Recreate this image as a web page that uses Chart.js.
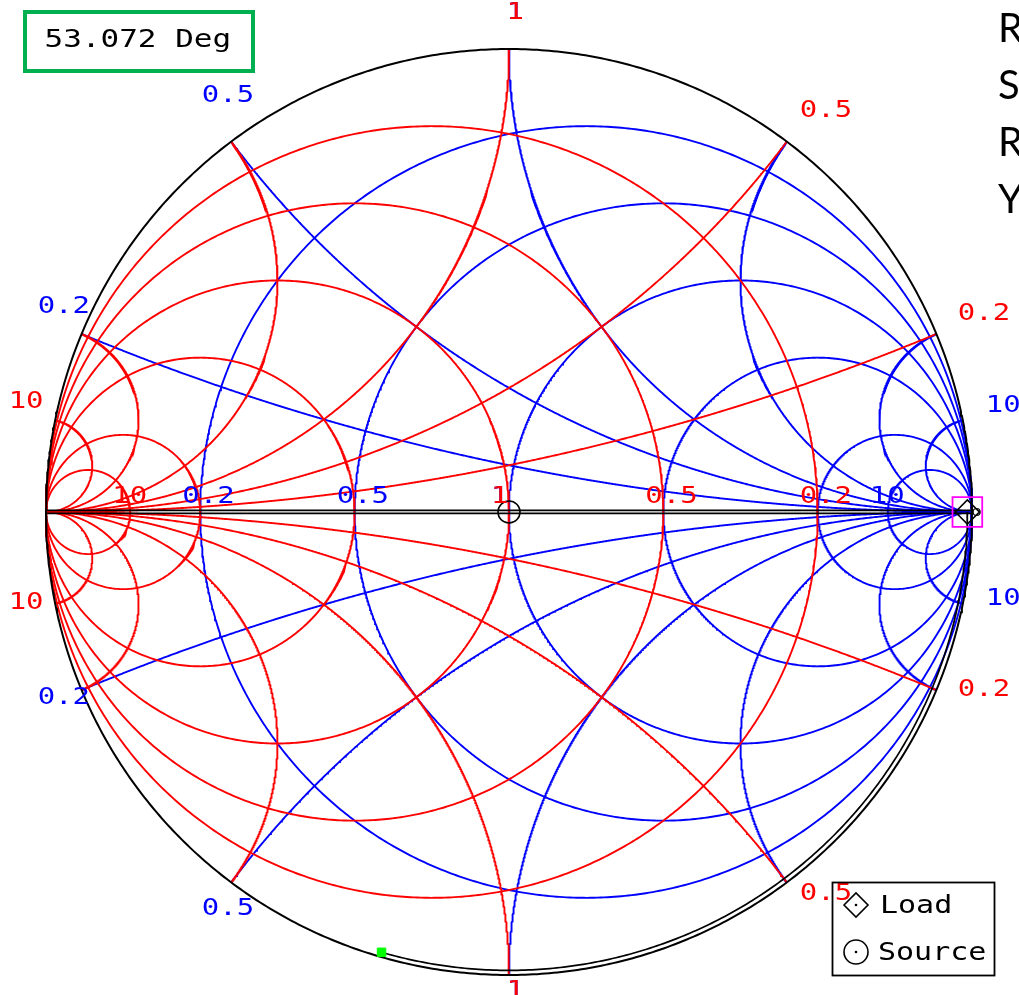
<!DOCTYPE html>
<html>
<head>
<meta charset="utf-8">
<script src="https://cdn.jsdelivr.net/npm/chart.js@4.4.1/dist/chart.umd.min.js"></script>
<style>
  html, body { margin: 0; padding: 0; background: #ffffff; overflow: hidden; }
  canvas { display: block; }
</style>
</head>
<body>
<canvas id="smith" width="1019" height="995"></canvas>
<script>
// Grid values of the impedance (Z, blue) and admittance (Y, red) charts
const resistanceValues  = [0.2, 0.5, 1, 2, 5, 10];
const reactanceValues   = [0.2, 0.5, 1, 2, 5, 10];
const conductanceValues = [0.2, 0.5, 1, 2, 5, 10];
const susceptanceValues = [0.2, 0.5, 1, 2, 5, 10];

// Values printed along the real axis and around the rim
const zAxisLabels = [0.2, 0.5, 1, 10];
const yAxisLabels = [0.2, 0.5, 1, 10];
const zRimLabels  = [0.2, 0.5, 1, 10];
const yRimLabels  = [0.2, 0.5, 1, 10];

// Line section: load reflection coefficient, source point and electrical length
const loadGamma = [0.99, 0];
const sourceGamma = [0, 0];
const lineLengthDeg = 53.072;
const readoutText = lineLengthDeg.toFixed(3) + ' Deg';
const legendEntries = ['Load', 'Source'];
const sideLetters = ['R', 'S', 'R', 'Y'];

const BLUE = '#0000ff', RED = '#ff0000', BLACK = '#000000';
const GRID_W = 1.9;
const N = 720;

// Reflection coefficient of a normalised impedance z = r + jx
function gammaFromZ(r, x) {
  const den = (r + 1) * (r + 1) + x * x;
  return [(r * r + x * x - 1) / den, (2 * x) / den];
}
// Reflection coefficient of a normalised admittance y = g + jb
function gammaFromY(g, b) {
  const p = gammaFromZ(g, b);
  return [-p[0], -p[1]];
}

// Constant real-part circle: imaginary part swept over (-inf, inf)
function realCircle(v, map) {
  const pts = [];
  for (let i = 0; i <= N; i++) {
    if (i === 0 || i === N) { pts.push(map(1e9, 0)); continue; }
    const u = -Math.PI / 2 + Math.PI * i / N;
    pts.push(map(v, Math.tan(u)));
  }
  return pts;
}
// Constant imaginary-part arc: real part swept over [0, inf)
function imagArc(v, map) {
  const pts = [];
  for (let i = 0; i <= N; i++) {
    if (i === N) { pts.push(map(1e9, 0)); continue; }
    const u = (Math.PI / 2) * i / N;
    pts.push(map(Math.tan(u), v));
  }
  return pts;
}

function lineSet(points, color, width) {
  return {
    data: points.map(p => ({ x: p[0], y: p[1] })),
    showLine: true,
    borderColor: color,
    borderWidth: width,
    pointRadius: 0,
    fill: false,
    tension: 0
  };
}

// Datasets listed from the bottom layer to the top layer
const layers = [];
resistanceValues.forEach(r => layers.push(lineSet(realCircle(r, gammaFromZ), BLUE, GRID_W)));
reactanceValues.forEach(x => {
  layers.push(lineSet(imagArc(x, gammaFromZ), BLUE, GRID_W));
  layers.push(lineSet(imagArc(-x, gammaFromZ), BLUE, GRID_W));
});
conductanceValues.forEach(g => layers.push(lineSet(realCircle(g, gammaFromY), RED, GRID_W)));
susceptanceValues.forEach(b => {
  layers.push(lineSet(imagArc(b, gammaFromY), RED, GRID_W));
  layers.push(lineSet(imagArc(-b, gammaFromY), RED, GRID_W));
});

// Chart boundary and real axis
const rim = [];
for (let i = 0; i <= N; i++) {
  const a = 2 * Math.PI * i / N;
  rim.push([Math.cos(a), Math.sin(a)]);
}
layers.push(lineSet(rim, BLACK, 2));
layers.push(lineSet([[-1, 0.0035], [1, 0.0035]], BLACK, 1.6));
layers.push(lineSet([[-1, -0.003], [1, -0.003]], BLACK, 1.6));

// Lossless line: rotation toward the generator by twice the electrical length
const traceRadius = Math.hypot(loadGamma[0], loadGamma[1]);
const startAngle = Math.atan2(loadGamma[1], loadGamma[0]);
const sweep = -2 * lineLengthDeg * Math.PI / 180;
const trace = [];
for (let i = 0; i <= 240; i++) {
  const a = startAngle + sweep * i / 240;
  trace.push([traceRadius * Math.cos(a), traceRadius * Math.sin(a)]);
}
layers.push(lineSet(trace, BLACK, 1.7));
const traceEnd = trace[trace.length - 1];

function markerSet(p, style, radius, border, fillColor, width) {
  return {
    data: [{ x: p[0], y: p[1] }],
    showLine: false,
    pointStyle: style,
    pointRadius: radius,
    pointBorderColor: border,
    pointBackgroundColor: fillColor,
    pointBorderWidth: width
  };
}
layers.push(markerSet(traceEnd, 'rect', 6, '#00ff00', '#00ff00', 1));
layers.push(markerSet(sourceGamma, 'circle', 11, BLACK, 'rgba(0,0,0,0)', 1.6));
layers.push(markerSet(loadGamma, 'rectRot', 12, BLACK, 'rgba(0,0,0,0)', 1.6));
layers.push(markerSet([1.01, 0], 'circle', 3.5, BLACK, 'rgba(0,0,0,0)', 1.2));
layers.push(markerSet(loadGamma, 'rect', 21, '#ff00ff', 'rgba(0,0,0,0)', 1.8));

// Chart.js paints dataset 0 last, so the top layer goes first
const datasets = layers.slice().reverse();

function stretchedText(ctx, str, x, y, color, size, sx) {
  ctx.save();
  ctx.font = size + 'px "DejaVu Sans Mono"';
  ctx.fillStyle = color;
  ctx.textAlign = 'left';
  ctx.textBaseline = 'alphabetic';
  ctx.translate(x, y);
  ctx.scale(sx, 1);
  ctx.fillText(str, 0, 0);
  ctx.restore();
}

function rimAnchor(g) {
  const ang = Math.atan2(g[1], g[0]);
  const R = Math.cos(ang) < -0.01 ? 1.097 : 1.056;
  return [R * Math.cos(ang), R * Math.sin(ang)];
}

const annotations = {
  id: 'smithText',
  afterDatasetsDraw(chart) {
    const ctx = chart.ctx;
    const xs = chart.scales.x, ys = chart.scales.y;
    const px = v => xs.getPixelForValue(v);
    const py = v => ys.getPixelForValue(v);
    const axisY = py(0);

    // Real-axis values
    zAxisLabels.forEach(v => {
      const g = gammaFromZ(v, 0);
      stretchedText(ctx, String(v), px(g[0]) - 18, axisY - 9, BLUE, 23, 1.26);
    });
    yAxisLabels.forEach(v => {
      const g = gammaFromY(v, 0);
      stretchedText(ctx, String(v), px(g[0]) - 18, axisY - 9, RED, 23, 1.26);
    });

    // Rim values at both ends of each reactance / susceptance arc
    const rimLabel = (g, text, color) => {
      const a = rimAnchor(g);
      stretchedText(ctx, text, px(a[0]) - 2.5, py(a[1]) - 3.6, color, 23, 1.26);
    };
    zRimLabels.forEach(v => {
      rimLabel(gammaFromZ(0, v), String(v), BLUE);
      rimLabel(gammaFromZ(0, -v), String(v), BLUE);
    });
    yRimLabels.forEach(v => {
      rimLabel(gammaFromY(0, v), String(v), RED);
      rimLabel(gammaFromY(0, -v), String(v), RED);
    });

    // Electrical length readout
    ctx.save();
    ctx.strokeStyle = '#00b050';
    ctx.lineWidth = 4;
    ctx.strokeRect(25, 12, 228, 59);
    ctx.restore();
    stretchedText(ctx, readoutText, 44.5, 47, BLACK, 25, 1.24);

    // Marker legend
    ctx.save();
    ctx.strokeStyle = BLACK;
    ctx.fillStyle = BLACK;
    ctx.lineWidth = 1.8;
    ctx.strokeRect(832.5, 882.5, 162, 93);
    ctx.lineWidth = 1.6;
    ctx.beginPath();
    ctx.moveTo(844, 905); ctx.lineTo(856, 893); ctx.lineTo(868, 905); ctx.lineTo(856, 917);
    ctx.closePath();
    ctx.stroke();
    ctx.beginPath(); ctx.arc(856, 905, 1.3, 0, 2 * Math.PI); ctx.fill();
    ctx.beginPath(); ctx.arc(856, 952, 12, 0, 2 * Math.PI); ctx.stroke();
    ctx.beginPath(); ctx.arc(856, 952, 1.3, 0, 2 * Math.PI); ctx.fill();
    ctx.restore();
    stretchedText(ctx, legendEntries[0], 880, 913, BLACK, 25, 1.2);
    stretchedText(ctx, legendEntries[1], 878, 960, BLACK, 25, 1.2);

    // Side caption letters
    ctx.save();
    ctx.font = '40px Lato';
    ctx.fillStyle = BLACK;
    ctx.textAlign = 'left';
    ctx.textBaseline = 'alphabetic';
    sideLetters.forEach((s, i) => ctx.fillText(s, 998, 42 + i * 57));
    ctx.restore();
  }
};

new Chart(document.getElementById('smith'), {
  type: 'scatter',
  data: { datasets },
  options: {
    responsive: false,
    devicePixelRatio: 1,
    animation: false,
    events: [],
    layout: { padding: 0, autoPadding: false },
    plugins: { legend: { display: false }, tooltip: { enabled: false }, title: { display: false } },
    scales: {
      x: { type: 'linear', display: false, min: -509 / 463, max: 510 / 463 },
      y: { type: 'linear', display: false, min: -483 / 463, max: 512 / 463 }
    }
  },
  plugins: [annotations]
});
</script>
</body>
</html>
